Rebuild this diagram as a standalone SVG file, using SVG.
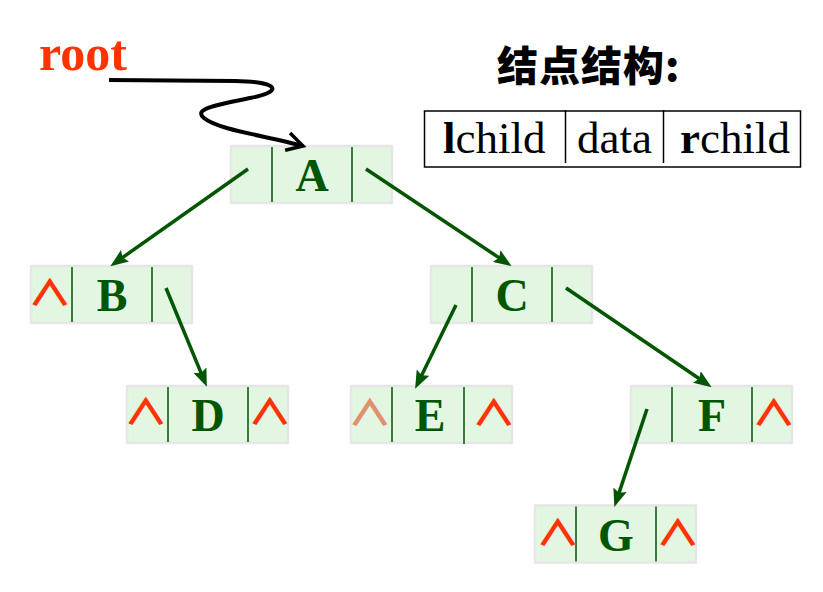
<svg xmlns="http://www.w3.org/2000/svg" width="823" height="592" viewBox="0 0 823 592">
<style>
.box{fill:#e2f6e2;stroke:#e6e6e6;stroke-width:2.5}
.div{stroke:#005500;stroke-width:1.5}
.lbl{font-family:"Liberation Serif",serif;font-weight:bold;font-size:46px;fill:#005500;text-anchor:middle}
.nil{font-family:"Noto Sans CJK SC",sans-serif;font-weight:bold;font-size:40px;fill:#ff3300;text-anchor:middle}
.nil2{fill:#e0906a}
.edge{stroke:#005500;stroke-width:3.5;fill:none;marker-end:url(#ah)}
.tt{font-family:"Liberation Serif",serif;font-size:45px;fill:#000}
</style>
<defs>
<marker id="ah" markerUnits="userSpaceOnUse" markerWidth="18" markerHeight="14" refX="8" refY="7" orient="auto">
<path d="M0,0 L18,7 L0,14 L3,7 z" fill="#005500"/>
</marker>
<marker id="oh" markerUnits="userSpaceOnUse" markerWidth="24" markerHeight="24" refX="20" refY="12" orient="auto">
<path d="M4,3 L20,12 L4,21" fill="none" stroke="#000" stroke-width="3.5"/>
</marker>
</defs>
<rect width="823" height="592" fill="#fff"/>

<g id="root-label">
<text x="39" y="70" font-family="Liberation Serif,serif" font-weight="bold" font-size="50" fill="#ff3300">root</text>
</g>

<g id="legend">
<text x="497" y="81" font-family="Noto Sans CJK SC,sans-serif" font-weight="900" font-size="41" letter-spacing="1" fill="#000">结点结构:</text>
<rect x="424.5" y="111" width="376" height="56" fill="none" stroke="#000" stroke-width="1.5"/>
<line x1="565.5" y1="110" x2="565.5" y2="163" stroke="#000" stroke-width="1.5"/>
<line x1="663.5" y1="110" x2="663.5" y2="163" stroke="#000" stroke-width="1.5"/>
<text class="tt" x="443" y="153"><tspan font-weight="bold">l</tspan>child</text>
<text class="tt" x="577" y="153">data</text>
<text class="tt" x="680" y="153"><tspan font-weight="bold">r</tspan>child</text>
</g>

<g id="node-A">
<rect class="box" x="231" y="146" width="161" height="57"/>
<line class="div" x1="272" y1="147" x2="272" y2="202"/>
<line class="div" x1="352" y1="147" x2="352" y2="202"/>
<text class="lbl" x="312" y="191">A</text>
</g>
<g id="node-B">
<rect class="box" x="31" y="266" width="161" height="57"/>
<line class="div" x1="72" y1="267" x2="72" y2="322"/>
<line class="div" x1="152" y1="267" x2="152" y2="322"/>
<text class="lbl" x="112" y="311">B</text>
<text class="nil" transform="translate(50,306) scale(1.12,0.9)">∧</text>
</g>
<g id="node-C">
<rect class="box" x="431" y="266" width="161" height="57"/>
<line class="div" x1="472" y1="267" x2="472" y2="322"/>
<line class="div" x1="552" y1="267" x2="552" y2="322"/>
<text class="lbl" x="512" y="311">C</text>
</g>
<g id="node-D">
<rect class="box" x="127" y="386" width="161" height="57"/>
<line class="div" x1="168" y1="387" x2="168" y2="442"/>
<line class="div" x1="248" y1="387" x2="248" y2="442"/>
<text class="lbl" x="208" y="431">D</text>
<text class="nil" transform="translate(146,425) scale(1.12,0.9)">∧</text>
<text class="nil" transform="translate(270,425) scale(1.12,0.9)">∧</text>
</g>
<g id="node-E">
<rect class="box" x="351" y="386" width="161" height="57"/>
<line class="div" x1="392" y1="387" x2="392" y2="442"/>
<line class="div" x1="464" y1="387" x2="464" y2="444"/>
<text class="lbl" x="430" y="431">E</text>
<text class="nil nil2" transform="translate(370,426) scale(1.12,0.9)">∧</text>
<text class="nil" transform="translate(494,426) scale(1.12,0.9)">∧</text>
</g>
<g id="node-F">
<rect class="box" x="631" y="386" width="161" height="57"/>
<line class="div" x1="672" y1="387" x2="672" y2="442"/>
<line class="div" x1="752" y1="387" x2="752" y2="442"/>
<text class="lbl" x="712" y="431">F</text>
<text class="nil" transform="translate(774,426) scale(1.12,0.9)">∧</text>
</g>
<g id="node-G">
<rect class="box" x="535" y="505.5" width="161" height="57"/>
<line class="div" x1="576" y1="506.5" x2="576" y2="561.5"/>
<line class="div" x1="656" y1="506.5" x2="656" y2="561.5"/>
<text class="lbl" x="616" y="551">G</text>
<text class="nil" transform="translate(558,546) scale(1.12,0.9)">∧</text>
<text class="nil" transform="translate(678,546) scale(1.12,0.9)">∧</text>
</g>

<g id="connectors">
<path d="M109,80 L235,81 C282,82 282,92 250,98 C215,105 193,109 204,118 C218,130 268,136 303,146" fill="none" stroke="#000" stroke-width="4" marker-end="url(#oh)"/>
<line class="edge" x1="248" y1="169" x2="118.5" y2="260.4"/>
<line class="edge" x1="366" y1="169" x2="503.3" y2="260.6"/>
<line class="edge" x1="166" y1="288" x2="203" y2="377.6"/>
<line class="edge" x1="456" y1="305" x2="419.5" y2="379.8"/>
<line class="edge" x1="566" y1="288" x2="703.4" y2="381.5"/>
<line class="edge" x1="647" y1="409" x2="617.5" y2="497.4"/>
</g>
</svg>
